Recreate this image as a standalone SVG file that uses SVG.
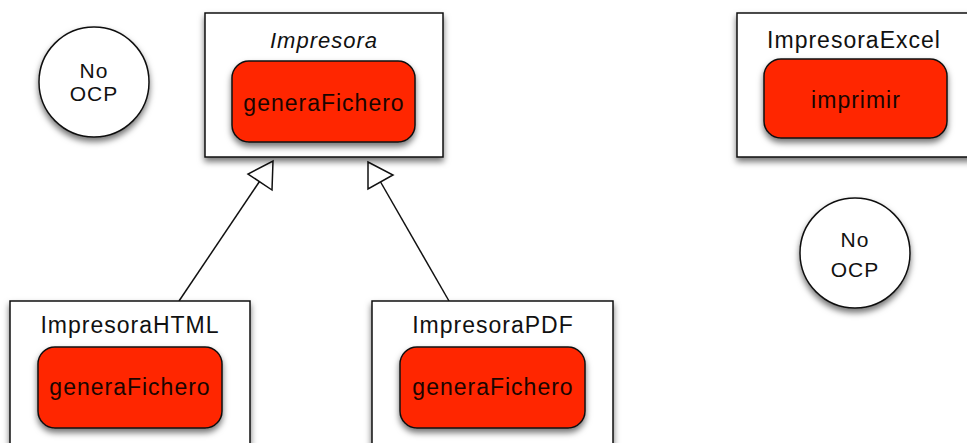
<svg xmlns="http://www.w3.org/2000/svg" width="967" height="443" viewBox="0 0 967 443">
  <style>
    .cls { fill: #ffffff; stroke: #111111; stroke-width: 1.5; filter: url(#shadow); }
    .op { fill: #ff2600; stroke: #111111; stroke-width: 1.5; filter: url(#shadow); }
    .note { fill: #ffffff; stroke: #111111; stroke-width: 1.5; filter: url(#shadow); }
    text { font-family: "Liberation Sans", Arial, sans-serif; fill: #111111; text-anchor: middle; }
    .title { font-size: 23px; letter-spacing: 1px; }
    .abstract { font-style: italic; font-size: 22px; letter-spacing: 1px; }
    .opname { font-size: 23px; letter-spacing: 1px; fill: #1a0500; }
    .notetext { font-size: 21px; letter-spacing: 1px; }
    .edge { stroke: #111111; stroke-width: 1.5; fill: none; }
    .head { fill: #ffffff; stroke: #111111; stroke-width: 1.5; stroke-linejoin: miter; }
  </style>
  <defs>
    <filter id="shadow" x="-20%" y="-20%" width="140%" height="150%">
      <feDropShadow dx="0" dy="4" stdDeviation="3" flood-color="#000000" flood-opacity="0.55"/>
    </filter>
  </defs>

  <rect width="967" height="443" fill="#ffffff"/>

  <!-- generalisation connectors -->
  <g id="connectors">
    <line class="edge" x1="179" y1="301" x2="260.5" y2="180"/>
    <polygon class="head" points="273,161 272,190 248,174"/>
    <line class="edge" x1="449" y1="301" x2="380" y2="181"/>
    <polygon class="head" points="368,162 393,175 368,189"/>
  </g>

  <g id="note-left">
    <circle class="note" cx="94" cy="82" r="55"/>
    <text class="notetext" x="94" y="78">No</text>
    <text class="notetext" x="94" y="101">OCP</text>
  </g>

  <g id="impresora">
    <rect class="cls" x="205" y="13" width="238" height="144"/>
    <text class="abstract" x="324" y="48">Impresora</text>
    <rect class="op" x="232" y="61" width="183" height="81" rx="17" ry="17"/>
    <text class="opname" x="324" y="111">generaFichero</text>
  </g>

  <g id="impresora-excel">
    <rect class="cls" x="737" y="13" width="236" height="144"/>
    <text class="title" x="854" y="48">ImpresoraExcel</text>
    <rect class="op" x="764" y="59" width="183" height="79" rx="17" ry="17"/>
    <text class="opname" x="856" y="108">imprimir</text>
  </g>

  <g id="note-right">
    <circle class="note" cx="855" cy="253" r="55"/>
    <text class="notetext" x="855" y="247">No</text>
    <text class="notetext" x="855" y="277">OCP</text>
  </g>

  <g id="impresora-html">
    <rect class="cls" x="10" y="301" width="240" height="160"/>
    <text class="title" x="130" y="333">ImpresoraHTML</text>
    <rect class="op" x="38" y="347" width="184" height="81" rx="17" ry="17"/>
    <text class="opname" x="130" y="395">generaFichero</text>
  </g>

  <g id="impresora-pdf">
    <rect class="cls" x="372" y="301" width="241" height="160"/>
    <text class="title" x="493" y="333">ImpresoraPDF</text>
    <rect class="op" x="400" y="347" width="185" height="81" rx="17" ry="17"/>
    <text class="opname" x="493" y="395">generaFichero</text>
  </g>
</svg>
